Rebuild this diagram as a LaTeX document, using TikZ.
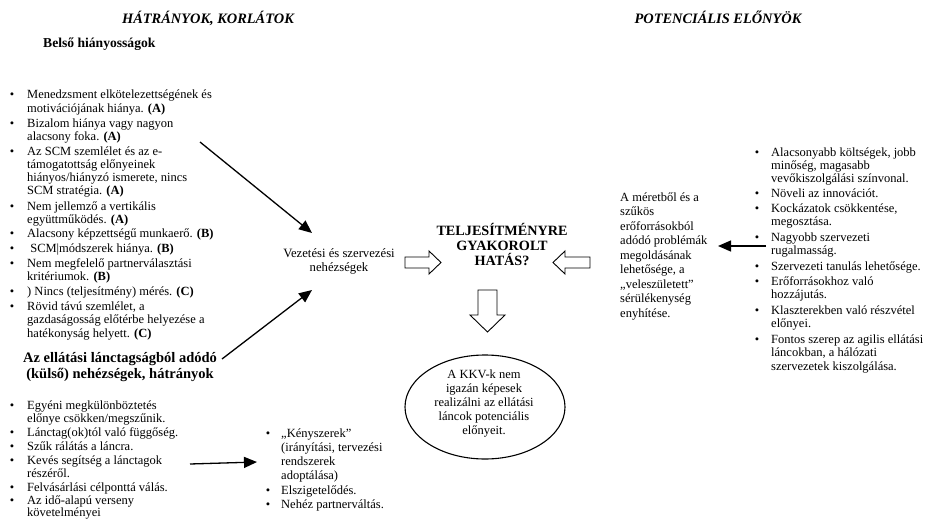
\documentclass[tikz,border=0pt]{standalone}
\usepackage{fontspec}
\setmainfont{Liberation Serif}
\usetikzlibrary{arrows.meta}
\begin{document}
\begin{tikzpicture}[x=1pt,y=-1pt,
  tl/.style={anchor=base west,inner sep=0pt,font=\fontsize{12.5}{13}\selectfont},
  tc/.style={anchor=base,inner sep=0pt,font=\fontsize{12.5}{13}\selectfont},
  bu/.style={anchor=base,inner sep=0pt,font=\fontsize{12.5}{13}\selectfont},
  ttl/.style={anchor=base,inner sep=0pt,font=\fontsize{14.4}{16}\selectfont\bfseries\itshape},
  hd/.style={anchor=base,inner sep=0pt,font=\fontsize{14.5}{16}\selectfont\bfseries},
  conn/.style={line width=1.3pt,-{Triangle[length=13pt,width=11pt]}},
  blk/.style={line width=0.9pt,draw=black,fill=white,line join=miter}]
\useasboundingbox[fill=white] (0,0) rectangle (929,519);

% titles
\node[ttl] (t1) at (208,24) {HÁTRÁNYOK, KORLÁTOK};
\node[ttl] (t2) at (718,24) {POTENCIÁLIS ELŐNYÖK};
\node[hd,anchor=base west,font=\fontsize{13.6}{15}\selectfont\bfseries] (h1) at (43,48) {Belső hiányosságok};

% left list
\node[bu] (lb1) at (12,99) {\textbullet};
\node[tl] (l1a) at (27,99) {Menedzsment elkötelezettségének és};
\node[tl] (l1b) at (27,112) {motivációjának hiánya. \textbf{(A)}};
\node[bu] (lb2) at (12,127) {\textbullet};
\node[tl] (l2a) at (27,127) {Bizalom hiánya vagy nagyon};
\node[tl] (l2b) at (27,140) {alacsony foka. \textbf{(A)}};
\node[bu] (lb3) at (12,155) {\textbullet};
\node[tl] (l3a) at (27,155) {Az SCM szemlélet és az e-};
\node[tl] (l3b) at (27,168) {támogatottság előnyeinek};
\node[tl] (l3c) at (27,181) {hiányos/hiányzó ismerete, nincs};
\node[tl] (l3d) at (27,194) {SCM stratégia. \textbf{(A)}};
\node[bu] (lb4) at (12,210) {\textbullet};
\node[tl] (l4a) at (27,210) {Nem jellemző a vertikális};
\node[tl] (l4b) at (27,223) {együttműködés. \textbf{(A)}};
\node[bu] (lb5) at (12,237) {\textbullet};
\node[tl] (l5a) at (27,237) {Alacsony képzettségű munkaerő. \textbf{(B)}};
\node[bu] (lb6) at (12,252) {\textbullet};
\node[tl] (l6a) at (27,252) {\ SCM|módszerek hiánya. \textbf{(B)}};
\node[bu] (lb7) at (12,267) {\textbullet};
\node[tl] (l7a) at (27,267) {Nem megfelelő partnerválasztási};
\node[tl] (l7b) at (27,280) {kritériumok. \textbf{(B)}};
\node[bu] (lb8) at (12,295) {\textbullet};
\node[tl] (l8a) at (27,295) {) Nincs (teljesítmény) mérés. \textbf{(C)}};
\node[bu] (lb9) at (12,310) {\textbullet};
\node[tl] (l9a) at (27,310) {Rövid távú szemlélet, a};
\node[tl] (l9b) at (27,323) {gazdaságosság előtérbe helyezése a};
\node[tl] (l9c) at (27,337) {hatékonyság helyett. \textbf{(C)}};

% external heading
\node[hd] (h2a) at (120,362) {Az ellátási lánctagságból adódó};
\node[hd] (h2b) at (120,378) {(külső) nehézségek, hátrányok};

% bottom-left list
\node[bu] (mb1) at (12,409) {\textbullet};
\node[tl] (m1a) at (27,409) {Egyéni megkülönböztetés};
\node[tl] (m1b) at (27,422) {előnye csökken/megszűnik.};
\node[bu] (mb2) at (12,436) {\textbullet};
\node[tl] (m2a) at (27,436) {Lánctag(ok)tól való függőség.};
\node[bu] (mb3) at (12,450) {\textbullet};
\node[tl] (m3a) at (27,450) {Szűk rálátás a láncra.};
\node[bu] (mb4) at (12,464) {\textbullet};
\node[tl] (m4a) at (27,464) {Kevés segítség a lánctagok};
\node[tl] (m4b) at (27,477) {részéről.};
\node[bu] (mb5) at (12,491) {\textbullet};
\node[tl] (m5a) at (27,491) {Felvásárlási célponttá válás.};
\node[bu] (mb6) at (12,504) {\textbullet};
\node[tl] (m6a) at (27,504) {Az idő-alapú verseny};
\node[tl] (m6b) at (27,516) {követelményei};

% bottom-middle list
\node[bu] (nb1) at (268,437) {\textbullet};
\node[tl] (n1a) at (281,437) {„Kényszerek”};
\node[tl] (n1b) at (281,451) {(irányítási, tervezési};
\node[tl] (n1c) at (281,465) {rendszerek};
\node[tl] (n1d) at (281,479) {adoptálása)};
\node[bu] (nb2) at (268,494) {\textbullet};
\node[tl] (n2a) at (281,494) {Elszigetelődés.};
\node[bu] (nb3) at (268,508) {\textbullet};
\node[tl] (n3a) at (281,508) {Nehéz partnerváltás.};

% center
\node[tc,font=\fontsize{12.7}{14}\selectfont] (v1) at (339,257) {Vezetési és szervezési};
\node[tc,font=\fontsize{12.7}{14}\selectfont] (v2) at (339,271) {nehézségek};
\node[hd,font=\fontsize{14.2}{15}\selectfont\bfseries] (c1) at (502,235) {TELJESÍTMÉNYRE};
\node[hd,font=\fontsize{14.2}{15}\selectfont\bfseries] (c2) at (502,250) {GYAKOROLT};
\node[hd,font=\fontsize{14.2}{15}\selectfont\bfseries] (c3) at (502,265) {HATÁS?};

% ellipse
\draw[line width=1.1pt] (485,407) ellipse [x radius=80, y radius=52];
\node[tc] (e1) at (484,378) {A KKV-k nem};
\node[tc] (e2) at (484,392) {igazán képesek};
\node[tc] (e3) at (484,406) {realizálni az ellátási};
\node[tc] (e4) at (484,420) {láncok potenciális};
\node[tc] (e5) at (484,434) {előnyeit.};

% right middle text
\node[tl] (r1) at (620,201) {A méretből és a};
\node[tl] (r2) at (620,215.5) {szűkös};
\node[tl] (r3) at (620,230) {erőforrásokból};
\node[tl] (r4) at (620,244.5) {adódó problémák};
\node[tl] (r5) at (620,259) {megoldásának};
\node[tl] (r6) at (620,273.5) {lehetősége, a};
\node[tl] (r7) at (620,288) {„veleszületett”};
\node[tl] (r8) at (620,302.5) {sérülékenység};
\node[tl] (r9) at (620,317) {enyhítése.};

% right list
\node[bu] (pb1) at (757,156) {\textbullet};
\node[tl] (p1a) at (771,156) {Alacsonyabb költségek, jobb};
\node[tl] (p1b) at (771,169) {minőség, magasabb};
\node[tl] (p1c) at (771,182) {vevőkiszolgálási színvonal.};
\node[bu] (pb2) at (757,197) {\textbullet};
\node[tl] (p2a) at (771,197) {Növeli az innovációt.};
\node[bu] (pb3) at (757,212) {\textbullet};
\node[tl] (p3a) at (771,212) {Kockázatok csökkentése,};
\node[tl] (p3b) at (771,225) {megosztása.};
\node[bu] (pb4) at (757,241) {\textbullet};
\node[tl] (p4a) at (771,241) {Nagyobb szervezeti};
\node[tl] (p4b) at (771,254) {rugalmasság.};
\node[bu] (pb5) at (757,270) {\textbullet};
\node[tl] (p5a) at (771,270) {Szervezeti tanulás lehetősége.};
\node[bu] (pb6) at (757,285) {\textbullet};
\node[tl] (p6a) at (771,285) {Erőforrásokhoz való};
\node[tl] (p6b) at (771,298) {hozzájutás.};
\node[bu] (pb7) at (757,314) {\textbullet};
\node[tl] (p7a) at (771,314) {Klaszterekben való részvétel};
\node[tl] (p7b) at (771,327) {előnyei.};
\node[bu] (pb8) at (757,343) {\textbullet};
\node[tl] (p8a) at (771,343) {Fontos szerep az agilis ellátási};
\node[tl] (p8b) at (771,356) {láncokban, a hálózati};
\node[tl] (p8c) at (771,370) {szervezetek kiszolgálása.};

% thin arrows
\coordinate (a1s) at (200,142); \coordinate (a1e) at (312,233);
\coordinate (a2s) at (222,359); \coordinate (a2e) at (312,290);
\coordinate (a3s) at (190,464); \coordinate (a3e) at (257,462);
\coordinate (a4s) at (766,246); \coordinate (a4e) at (718,246);
\draw[conn] (a1s) -- (a1e);
\draw[conn] (a2s) -- (a2e);
\draw[conn] (a3s) -- (a3e);
\draw[conn] (a4s) -- (a4e);

% block arrows
\draw[blk] (405,257) -- (429,257) -- (429,251) -- (441,262.5) -- (429,274) -- (429,268) -- (405,268) -- cycle;
\draw[blk] (590,257) -- (565,257) -- (565,251) -- (553,262.5) -- (565,274) -- (565,268) -- (590,268) -- cycle;
\draw[blk] (478,290) -- (497,290) -- (497,315) -- (505,315) -- (487.5,332) -- (470,315) -- (478,315) -- cycle;
\end{tikzpicture}
\end{document}
